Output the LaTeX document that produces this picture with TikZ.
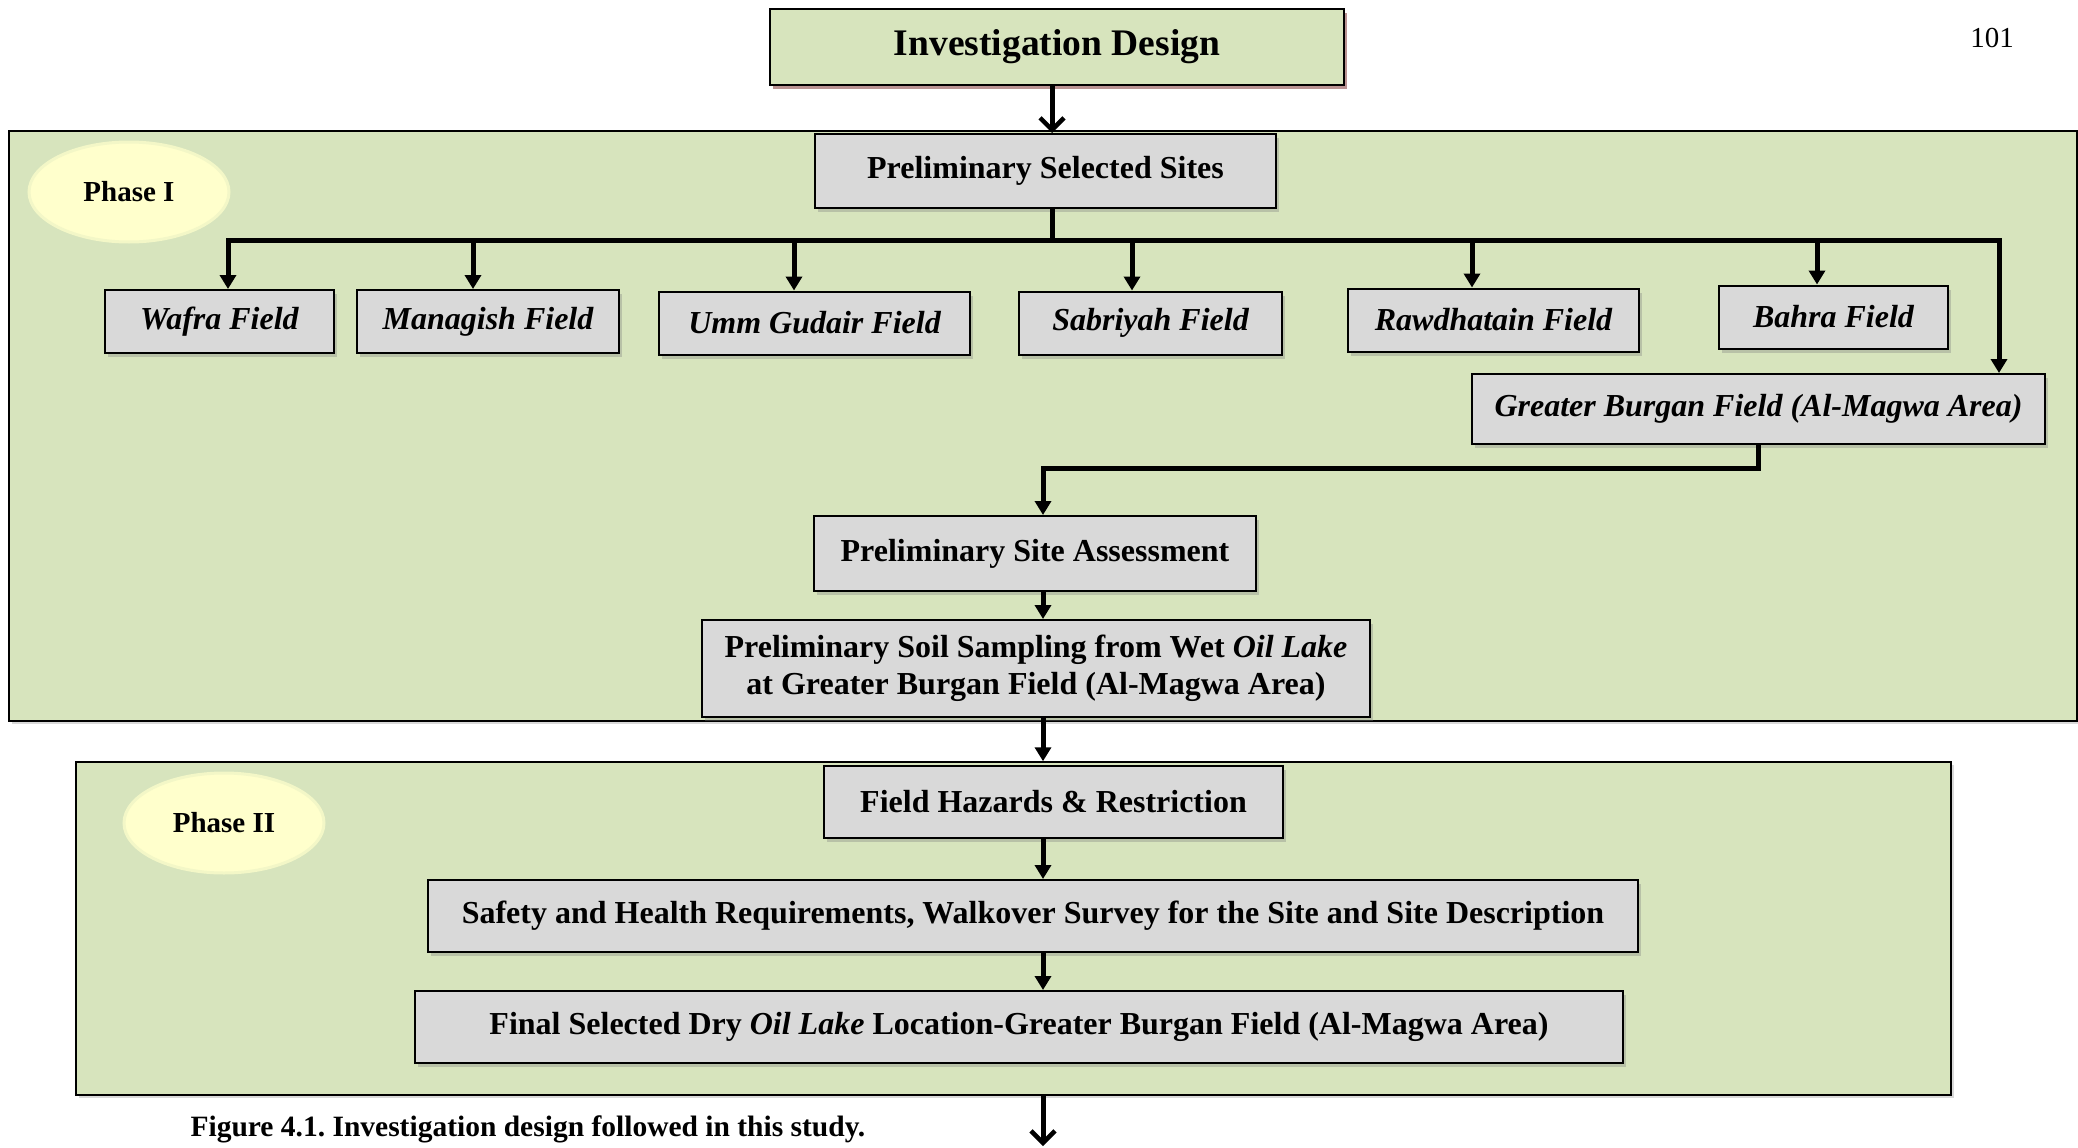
\documentclass[tikz,border=0pt]{standalone}
\usepackage{fontspec}
\setmainfont{Liberation Serif}
\usetikzlibrary{arrows.meta,shadows,shapes.geometric}
\definecolor{panelgreen}{HTML}{D7E4BD}
\definecolor{boxgray}{HTML}{D9D9D9}
\definecolor{phaseyellow}{HTML}{FFFFCC}
\newcommand{\bodysize}{\fontsize{32}{37}\selectfont}
\frenchspacing
\tikzset{
  panel/.style={draw, line width=1.5pt, fill=panelgreen, inner sep=0,
    drop shadow={opacity=0.3, shadow xshift=3pt, shadow yshift=-3pt}},
  sitebox/.style={draw, line width=2pt, fill=boxgray, inner sep=0, align=center,
    font=\bodysize\bfseries,
    drop shadow={opacity=0.35, shadow xshift=3pt, shadow yshift=-4pt}},
  fieldbox/.style={sitebox, font=\bodysize\bfseries\itshape, minimum height=63pt},
  phaselabel/.style={ellipse, fill=phaseyellow, draw=phaseyellow!70!panelgreen,
    line width=3pt, inner sep=0, font=\fontsize{29}{33}\selectfont\bfseries,
    minimum width=200pt, minimum height=100pt},
  line/.style={line width=5pt},
  arr/.style={line, -{Triangle[length=14pt,width=16pt]}},
  openarr/.style={line, -{Straight Barb[length=12pt,width=24pt,line width=4.5pt]}},
}

\begin{document}
\begin{tikzpicture}[x=1pt, y=-1pt]
\useasboundingbox (0,0) rectangle (2078,1148);
\coordinate (trunk) at (1052,0);
\coordinate (spine) at (1043,0);
\coordinate (bus) at (1052,240);
\coordinate (turn) at (1043,468);
\coordinate (out) at (1043,1146);

% phase panels
\node[panel, minimum width=2068pt, minimum height=590pt] (panelone) at (1043,426) {};
\node[panel, minimum width=1875pt, minimum height=333pt] (paneltwo) at (1013.5,928.5) {};
\node[phaselabel] (phaseone) at (129,192) {Phase I};
\node[phaselabel] (phasetwo) at (224,823) {Phase II};

% top
\node[sitebox, fill=panelgreen, font=\fontsize{37.5}{42}\selectfont\bfseries,
  minimum width=574pt, minimum height=76pt,
  drop shadow={fill=red!50!black, opacity=0.3, shadow xshift=3pt, shadow yshift=-4pt}]
  (design) at (1057,47) {Investigation Design};
\node[sitebox, minimum width=461pt, minimum height=74pt] (sites) at (1045.5,171) {Preliminary Selected Sites};

% fields
\node[fieldbox, minimum width=229pt] (wafra) at (219.5,321.5) {Wafra Field};
\node[fieldbox, minimum width=262pt] (managish) at (488,321.5) {Managish Field};
\node[fieldbox, minimum width=311pt] (ummgudair) at (814.5,323) {Umm Gudair Field};
\node[fieldbox, minimum width=263pt] (sabriyah) at (1150.5,323) {Sabriyah Field};
\node[fieldbox, minimum width=291pt] (rawdhatain) at (1493.5,320) {Rawdhatain Field};
\node[fieldbox, minimum width=229pt] (bahra) at (1833.5,317) {Bahra Field};
\node[fieldbox, minimum width=573pt, minimum height=70pt] (burgan) at (1758.5,409) {Greater Burgan Field (Al-Magwa Area)};

% assessment and sampling
\node[sitebox, minimum width=442pt, minimum height=75pt] (assess) at (1035,553.5) {Preliminary Site Assessment};
\node[sitebox, minimum width=668pt, minimum height=97pt] (sampling) at (1036,668.5)
  {Preliminary Soil Sampling from Wet \textit{Oil Lake}\\at Greater Burgan Field (Al-Magwa Area)};

% phase II
\node[sitebox, minimum width=459pt, minimum height=72pt] (hazards) at (1053.5,802) {Field Hazards \& Restriction};
\node[sitebox, minimum width=1210pt, minimum height=72pt] (safety) at (1033,916)
  {Safety and Health Requirements, Walkover Survey for the Site and Site Description};
\node[sitebox, minimum width=1208pt, minimum height=72pt] (final) at (1019,1027)
  {Final Selected Dry \textit{Oil Lake} Location-Greater Burgan Field (Al-Magwa Area)};

\node[anchor=west, font=\fontsize{29.5}{34}\selectfont\bfseries] (caption) at (187,1129)
  {Figure 4.1. Investigation design followed in this study.};
\node[font=\fontsize{29}{33}\selectfont] (pageno) at (1992,38) {101};

% connectors
\draw[openarr] (design.south -| trunk) -- (sites.north -| trunk);
\draw[line] (sites.south -| trunk) -- (bus);
\draw[arr] (bus) -| ([xshift=8.5pt]wafra.north);
\draw[arr] (bus) -| ([xshift=-15pt]managish.north);
\draw[arr] (bus) -| ([xshift=-20.5pt]ummgudair.north);
\draw[arr] (bus) -| ([xshift=-18.5pt]sabriyah.north);
\draw[arr] (bus) -| ([xshift=-21.5pt]rawdhatain.north);
\draw[arr] (bus) -| ([xshift=-16.5pt]bahra.north);
\draw[arr] (bus) -| ([xshift=240.5pt]burgan.north);
\draw[arr] (burgan.south) |- (turn) -- (assess.north -| turn);
\draw[arr] (assess.south -| spine) -- (sampling.north -| spine);
\draw[arr] (sampling.south -| spine) -- (paneltwo.north -| spine);
\draw[arr] (hazards.south -| spine) -- (safety.north -| spine);
\draw[arr] (safety.south -| spine) -- (final.north -| spine);
\draw[openarr] (paneltwo.south -| spine) -- (out);
\end{tikzpicture}
\end{document}
